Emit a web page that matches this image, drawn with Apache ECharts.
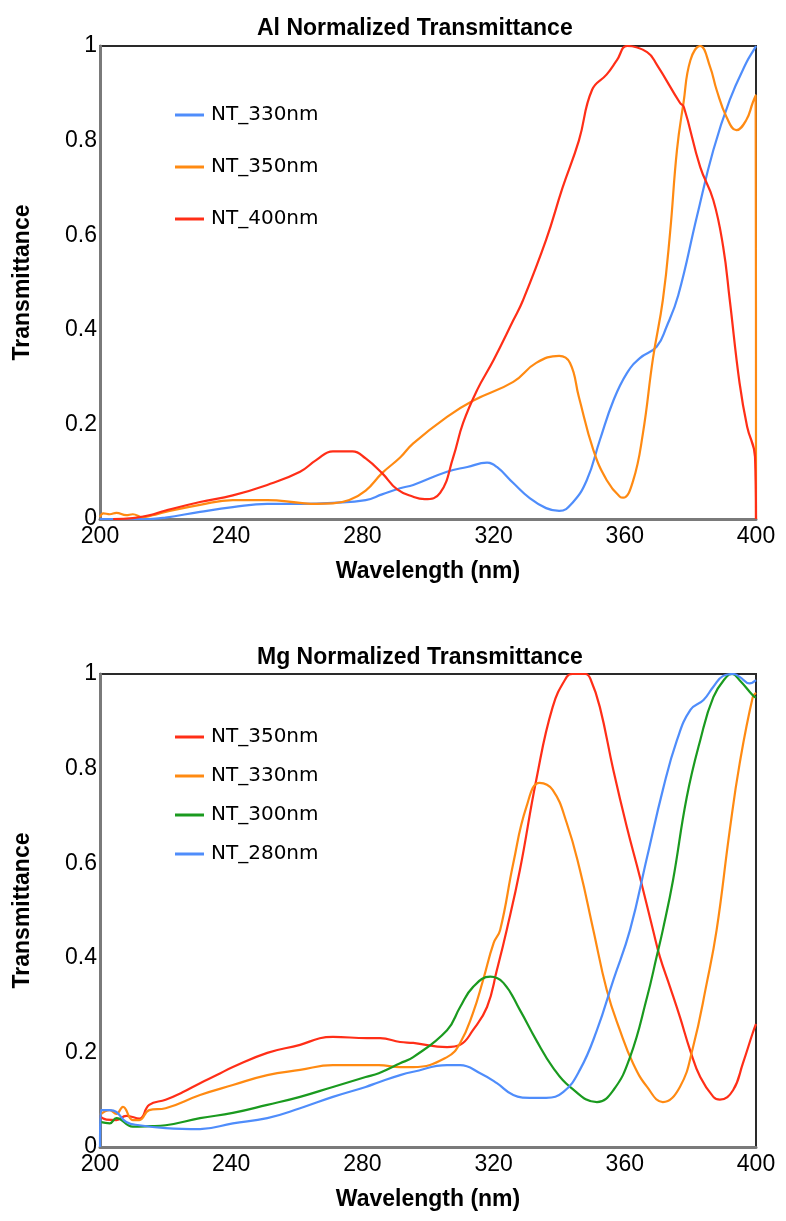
<!DOCTYPE html>
<html>
<head>
<meta charset="utf-8">
<script src="https://cdn.jsdelivr.net/npm/echarts@6/dist/echarts.min.js"></script>
<style>
html,body{margin:0;padding:0;background:#fff;}
#chart{width:786px;height:1221px;}
</style>
</head>
<body>
<div id="chart"></div>
<script>
// ---------- Data (wavelength nm, normalized transmittance) ----------
const titles = ['Al Normalized Transmittance', 'Mg Normalized Transmittance'];
const xTitle = 'Wavelength (nm)';
const yTitle = 'Transmittance';

// Al chart
const alNames = ['NT_330nm', 'NT_350nm', 'NT_400nm'];
const al_NT330 = [[200,0],[215,0],[220,0.003],[230.5,0.015],[240.5,0.025],[251,0.032],[261,0.032],[271,0.034],[281,0.04],[286,0.052],[291.5,0.065],[295.5,0.072],[305.8,0.1],[312,0.11],[318,0.119],[321,0.11],[326,0.076],[331,0.044],[336,0.023],[340,0.017],[344,0.034],[348.4,0.082],[352.4,0.167],[356.5,0.25],[360.6,0.308],[364.6,0.34],[369.7,0.364],[372.7,0.406],[376.3,0.473],[382,0.64],[387,0.78],[392,0.886],[397,0.964],[399.7,0.996],[400,1.0]];
const al_NT350 = [[200,0.004],[201,0.012],[203,0.01],[205,0.013],[208,0.008],[210,0.01],[213,0.004],[216,0.008],[220,0.015],[230.5,0.03],[240.5,0.04],[251,0.04],[261,0.034],[266,0.032],[271,0.033],[276,0.04],[281,0.06],[286,0.097],[291.5,0.13],[295.5,0.16],[305.8,0.216],[313.7,0.25],[326,0.29],[333,0.33],[340,0.345],[343.3,0.33],[346,0.258],[350.4,0.146],[354.5,0.082],[358.5,0.047],[359.5,0.045],[362.5,0.08],[365.5,0.18],[368.6,0.34],[371.6,0.463],[373.8,0.605],[375.9,0.78],[377.9,0.88],[380,0.97],[383,1.0],[386,0.956],[388,0.907],[391,0.85],[394,0.822],[397,0.843],[399,0.88],[399.9,0.896],[400,0]];
const al_NT400 = [[204,0],[210,0.002],[215,0.008],[220,0.018],[230.5,0.036],[240.5,0.05],[251,0.072],[261,0.1],[266,0.125],[271,0.143],[277,0.143],[281,0.128],[286,0.097],[290.5,0.063],[295.5,0.047],[299,0.042],[303.7,0.055],[307.7,0.131],[310.7,0.203],[315,0.273],[320,0.336],[326,0.42],[329,0.463],[336,0.59],[341,0.70],[346,0.80],[350,0.907],[354.5,0.94],[357.6,0.97],[360.7,1.0],[366.8,0.987],[369.8,0.96],[376.8,0.88],[378,0.871],[383,0.744],[387,0.674],[390,0.575],[392,0.463],[395,0.287],[397.3,0.195],[399.7,0.131],[400,0]];

// Mg chart
const mgNames = ['NT_350nm', 'NT_330nm', 'NT_300nm', 'NT_280nm'];
const mg_NT350 = [[200,0.064],[202,0.058],[205,0.057],[208,0.066],[212,0.06],[215,0.089],[220,0.1],[225,0.115],[230.5,0.135],[235.6,0.152],[240.5,0.169],[251,0.199],[261,0.216],[267,0.23],[271,0.233],[281.4,0.23],[285.4,0.23],[291.5,0.222],[295.5,0.22],[305.8,0.211],[309.8,0.216],[313.7,0.247],[318,0.296],[321,0.374],[324,0.459],[328,0.585],[333,0.776],[338,0.93],[342.3,0.994],[344,1.0],[348,1.0],[349.5,0.99],[352.4,0.93],[356.5,0.797],[360.6,0.677],[364.6,0.571],[368.6,0.459],[370.7,0.402],[373.8,0.338],[376.8,0.275],[379.9,0.205],[383,0.148],[387,0.106],[389,0.1],[393,0.12],[396,0.177],[399,0.241],[400,0.26]];
const mg_NT330 = [[200,0.068],[203,0.078],[205,0.07],[207,0.085],[210,0.057],[212,0.057],[215,0.078],[220,0.082],[230.5,0.11],[240.5,0.131],[251,0.152],[261,0.163],[271,0.173],[281,0.173],[285,0.173],[291.5,0.169],[295.5,0.169],[305.8,0.19],[309.8,0.22],[313.7,0.283],[316.8,0.353],[320,0.431],[322,0.459],[326,0.6],[330,0.719],[334,0.77],[338,0.755],[342.3,0.685],[346.3,0.586],[350.4,0.459],[354.5,0.332],[358.5,0.247],[362.5,0.177],[366.8,0.127],[371.6,0.095],[376.8,0.127],[380.8,0.211],[385,0.347],[388,0.459],[392,0.67],[395,0.81],[399,0.951],[400,0.96]];
const mg_NT300 = [[200,0.053],[203,0.05],[205,0.061],[210,0.043],[215,0.044],[220,0.046],[230.5,0.061],[240.5,0.072],[251,0.089],[261,0.106],[271,0.127],[281,0.148],[285,0.156],[291.5,0.177],[295.5,0.19],[305.8,0.247],[309.8,0.296],[313.7,0.338],[319,0.36],[323,0.347],[328,0.29],[333,0.226],[338,0.169],[343.3,0.127],[351.5,0.095],[356.5,0.12],[361.6,0.19],[366.8,0.317],[369.7,0.402],[371.6,0.459],[374.7,0.564],[378.9,0.74],[383,0.86],[387,0.951],[391,0.994],[392.7,1.0],[395,0.987],[399,0.955],[400,0.95]];
const mg_NT280 = [[200,0],[200.3,0.078],[203,0.078],[205,0.074],[208,0.053],[212,0.046],[220,0.04],[230.5,0.038],[240.5,0.05],[251,0.061],[261,0.082],[271,0.106],[281,0.127],[285,0.137],[291.5,0.152],[295.5,0.159],[305.8,0.173],[309.8,0.173],[315.9,0.156],[321,0.135],[326,0.11],[331,0.104],[336,0.104],[341.2,0.116],[346.3,0.163],[351.5,0.247],[356.5,0.353],[361.6,0.459],[366.8,0.613],[371.6,0.755],[375.9,0.86],[380,0.924],[384,0.945],[387,0.973],[390,0.996],[393,1.0],[395,0.994],[398,0.98],[400,0.987]];

// ---------- Styling ----------
const C = {blue:'#4f8dfb', orange:'#ff8a12', red:'#ff2e17', green:'#1a9a1f'};
const alColors = [C.blue, C.orange, C.red];
const mgColors = [C.red, C.orange, C.green, C.blue];
const alData = [al_NT330, al_NT350, al_NT400];
const mgData = [mg_NT350, mg_NT330, mg_NT300, mg_NT280];

const GRID_TOPS = [46, 674];
const FONT = '"Liberation Sans", Arial, Helvetica, sans-serif';

const grids = GRID_TOPS.map(t => ({left:100, top:t, width:656, height:473, show:true, borderColor:'#2a2a2a', borderWidth:2, backgroundColor:'#fff', containLabel:false}));

const xAxes = [0,1].map(i => ({
  type:'value', gridIndex:i, min:200, max:400, interval:40,
  name:xTitle, nameLocation:'middle', nameGap:41,
  nameTextStyle:{fontFamily:FONT, fontWeight:'bold', fontSize:23, color:'#000'},
  axisLine:{show:true, lineStyle:{color:'#7a7a7a', width:3}},
  axisTick:{show:false}, splitLine:{show:false},
  axisLabel:{fontFamily:FONT, fontSize:23, color:'#000', margin:6}
}));
const yAxes = [0,1].map(i => ({
  type:'value', gridIndex:i, min:0, max:1, interval:0.2,
  name:yTitle, nameLocation:'middle', nameGap:66, nameRotate:90,
  nameTextStyle:{fontFamily:FONT, fontWeight:'bold', fontSize:23, color:'#000'},
  axisLine:{show:true, lineStyle:{color:'#7a7a7a', width:3}},
  axisTick:{show:false}, splitLine:{show:false},
  axisLabel:{fontFamily:FONT, fontSize:23, color:'#000', margin:3}
}));

function mkSeries(names, datas, colors, idx){
  return names.map((n,k) => ({
    type:'line', name:n, xAxisIndex:idx, yAxisIndex:idx,
    data:datas[k], showSymbol:false, symbol:'none',
    smooth:0.45, clip:true,
    lineStyle:{color:colors[k], width:2.2},
    itemStyle:{color:colors[k]}
  }));
}

function mkLegend(names, colors, top, gap){
  return {
    orient:'vertical', left:170, top:top, itemGap:gap,
    itemWidth:29, itemHeight:3, icon:'rect', selectedMode:false,
    textStyle:{fontFamily:'"DejaVu Sans", sans-serif', fontSize:20, color:'#000', lineHeight:20, padding:[0,0,0,2]},
    data:names.map((n,k) => ({name:n, icon:'rect', itemStyle:{color:colors[k]}}))
  };
}

const option = {
  backgroundColor:'#fff',
  animation:false,
  title:[
    {text:titles[0], left:252, top:12, textStyle:{fontFamily:FONT, fontWeight:'bold', fontSize:23, color:'#000'}},
    {text:titles[1], left:252, top:641, textStyle:{fontFamily:FONT, fontWeight:'bold', fontSize:23, color:'#000'}}
  ],
  legend:[ mkLegend(alNames, alColors, 100, 32), mkLegend(mgNames, mgColors, 722, 19) ],
  grid:grids, xAxis:xAxes, yAxis:yAxes,
  series:[...mkSeries(alNames, alData, alColors, 0), ...mkSeries(mgNames, mgData, mgColors, 1)]
};

const chart = echarts.init(document.getElementById('chart'), null, {renderer:'canvas'});
chart.setOption(option);
</script>
</body>
</html>
